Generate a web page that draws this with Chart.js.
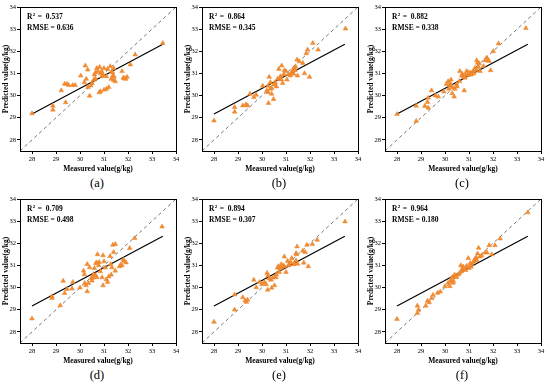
<!DOCTYPE html>
<html>
<head>
<meta charset="utf-8">
<script src="https://cdn.jsdelivr.net/npm/chart.js@4.4.1/dist/chart.umd.min.js"></script>
<style>
  body { margin: 0; background: #fff; }
  #wrap { position: relative; width: 550px; height: 387px; overflow: hidden; }
  canvas { position: absolute; }
  .tag { position: absolute; font: 12.5px "Liberation Serif", "Times New Roman", serif; color: #000; transform: translate(-50%, -50%); }
</style>
</head>
<body>
<div id="wrap"></div>
<script>
// ticks shared by both axes
const tickValues = [28, 29, 30, 31, 32, 33, 34];
// fitted line and 1:1 line
const fitX = [28.0, 33.45];
const fitY = [29.17, 32.32];
const oneToOne = [27.5, 34];

const panelLabels = ['(a)', '(b)', '(c)', '(d)', '(e)', '(f)'];
const r2Values = ['0.537', '0.864', '0.882', '0.709', '0.894', '0.964'];
const rmseValues = ['0.636', '0.345', '0.338', '0.498', '0.307', '0.180'];

const measuredA = [28.0, 28.87, 28.87, 29.22, 29.36, 29.46, 29.53, 29.4, 29.7, 29.8, 30.03, 30.22, 30.32, 30.18, 30.26, 30.33, 30.4, 30.5, 30.57, 30.64, 30.7, 30.74, 30.82, 30.85, 30.8, 30.85, 30.92, 30.96, 31.0, 31.1, 31.1, 31.0, 31.2, 31.26, 31.33, 31.37, 31.47, 31.4, 31.75, 31.8, 31.9, 31.96, 32.1, 32.3, 33.45,
  30.6, 30.9, 31.3, 31.4, 31.35, 30.45, 30.65, 31.15, 31.85, 31.42];
const predictedA = [29.2, 29.54, 29.36, 30.23, 30.53, 30.53, 30.47, 29.69, 30.47, 30.47, 30.9, 31.35, 31.17, 30.6, 30.75, 30.38, 29.99, 30.56, 30.71, 30.77, 31.24, 31.1, 31.29, 31.0, 30.14, 30.19, 30.87, 30.95, 31.24, 30.87, 30.3, 30.26, 30.38, 31.32, 31.1, 30.9, 30.64, 31.24, 31.1, 30.8, 30.75, 30.84, 31.4, 31.85, 32.37,
  30.95, 31.1, 30.75, 30.7, 31.05, 30.45, 31.05, 31.2, 30.78, 30.85];

const measuredB = [28.0, 28.86, 28.86, 29.2, 29.33, 29.4, 29.5, 29.66, 29.76, 30.03, 30.2, 30.26, 30.3, 30.35, 30.27, 30.4, 30.4, 30.48, 30.55, 30.6, 30.7, 30.82, 30.77, 30.8, 30.86, 30.93, 31.0, 31.04, 31.18, 31.28, 31.35, 31.4, 31.32, 31.48, 31.46, 31.55, 31.7, 31.77, 31.84, 31.9, 31.98, 32.12, 32.34, 33.48,
  30.25, 30.5, 30.75, 31.1, 31.3, 31.38, 30.65, 30.35, 31.2, 30.9];
const predictedB = [28.87, 29.48, 29.27, 29.55, 29.6, 29.55, 30.08, 29.93, 30.03, 30.44, 30.23, 30.44, 30.84, 30.6, 29.66, 30.34, 30.08, 29.84, 30.6, 30.41, 31.2, 31.35, 30.87, 30.72, 30.56, 31.14, 31.1, 30.72, 30.9, 31.1, 31.24, 31.32, 30.98, 30.9, 31.62, 31.55, 31.47, 31.0, 31.9, 32.07, 30.84, 32.37, 32.07, 33.02,
  30.15, 30.5, 30.8, 30.95, 31.2, 31.15, 30.75, 30.3, 31.0, 30.95];

const measuredC = [28.0, 28.8, 28.8, 29.16, 29.27, 29.3, 29.3, 29.44, 29.6, 29.72, 29.95, 30.06, 30.13, 30.16, 30.2, 30.25, 30.3, 30.3, 30.38, 30.41, 30.48, 30.62, 30.72, 30.76, 30.83, 30.8, 30.9, 30.97, 31.08, 31.18, 31.25, 31.32, 31.36, 31.4, 31.46, 31.6, 31.67, 31.74, 31.83, 31.9, 32.01, 32.23, 33.37,
  30.22, 30.5, 30.7, 30.85, 31.0, 31.2, 31.3, 31.42, 30.6, 31.1, 31.8];
const predictedC = [29.16, 29.54, 28.85, 29.53, 29.71, 29.9, 29.45, 30.23, 30.0, 29.95, 30.18, 30.52, 30.64, 30.3, 30.46, 30.72, 30.38, 30.1, 29.95, 30.3, 30.5, 31.1, 30.98, 30.87, 30.8, 30.23, 31.1, 30.92, 31.02, 31.1, 31.25, 31.59, 31.48, 31.28, 31.1, 31.33, 31.59, 31.71, 31.56, 31.14, 32.0, 32.35, 33.04,
  30.55, 30.4, 30.9, 30.95, 31.05, 31.0, 31.15, 31.45, 30.65, 30.95, 31.6];

const measuredD = [28.0, 28.83, 28.83, 29.18, 29.3, 29.36, 29.46, 29.67, 29.7, 30.0, 30.15, 30.18, 30.2, 30.25, 30.3, 30.3, 30.4, 30.47, 30.5, 30.56, 30.6, 30.66, 30.7, 30.73, 30.78, 30.85, 30.92, 30.96, 30.96, 31.0, 31.1, 31.15, 31.25, 31.28, 31.3, 31.33, 31.37, 31.4, 31.47, 31.47, 31.65, 31.7, 31.8, 31.85, 31.92, 32.07, 32.28, 33.42,
  30.35, 30.65, 30.8, 31.05, 31.2, 30.55, 31.75, 30.7];
const predictedD = [28.6, 29.6, 29.53, 29.2, 30.3, 29.75, 29.93, 29.95, 30.25, 30.0, 30.76, 30.6, 30.2, 30.1, 31.06, 29.83, 30.91, 30.43, 30.31, 30.6, 30.88, 31.1, 30.46, 31.5, 31.0, 30.73, 30.46, 31.45, 30.1, 31.18, 30.37, 30.25, 31.42, 31.06, 30.58, 30.91, 31.93, 31.6, 31.96, 30.76, 30.96, 31.03, 31.25, 31.2, 31.13, 31.78, 32.23, 32.75,
  30.2, 30.55, 31.15, 30.9, 30.5, 30.45, 31.0, 31.12];

const measuredE = [28.0, 28.86, 28.86, 29.2, 29.3, 29.35, 29.66, 29.76, 29.9, 30.0, 30.1, 30.17, 30.21, 30.26, 30.24, 30.38, 30.4, 30.52, 30.58, 30.68, 30.72, 30.8, 30.82, 30.93, 30.93, 31.0, 31.07, 31.14, 31.24, 31.32, 31.42, 31.42, 31.46, 31.48, 31.7, 31.74, 31.8, 31.87, 31.93, 32.1, 32.3, 33.46,
  29.4, 30.3, 30.6, 30.75, 30.88, 31.2, 31.35, 30.45, 31.1, 30.65, 31.44];
const predictedE = [28.45, 29.0, 29.68, 29.56, 29.41, 29.35, 30.35, 30.01, 30.25, 30.15, 30.25, 30.15, 30.66, 30.55, 29.9, 30.35, 29.99, 30.1, 30.46, 30.96, 30.7, 31.05, 30.9, 31.4, 30.96, 30.7, 31.2, 31.05, 31.33, 31.05, 31.55, 31.22, 31.85, 31.07, 31.66, 31.12, 31.6, 31.93, 30.96, 31.96, 32.15, 32.98,
  29.45, 30.4, 30.6, 30.85, 31.0, 31.15, 31.1, 30.45, 31.0, 30.9, 31.5];

const measuredF = [28.0, 28.85, 28.85, 28.9, 29.2, 29.27, 29.34, 29.44, 29.5, 29.69, 29.8, 30.0, 30.13, 30.2, 30.27, 30.3, 30.34, 30.4, 30.48, 30.55, 30.66, 30.69, 30.76, 30.8, 30.86, 30.9, 30.97, 31.0, 31.08, 31.18, 31.25, 31.32, 31.36, 31.4, 31.46, 31.53, 31.67, 31.75, 31.84, 31.95, 32.08, 32.3, 33.45,
  30.25, 30.6, 30.72, 31.1, 31.22, 30.45, 31.3, 30.35, 31.05];
const predictedF = [28.58, 29.18, 28.85, 29.0, 29.18, 29.4, 29.33, 29.52, 29.67, 29.76, 29.82, 30.06, 30.21, 30.06, 30.27, 30.47, 30.21, 30.58, 30.47, 30.58, 31.0, 30.73, 30.94, 30.82, 30.79, 30.98, 31.33, 30.88, 30.94, 31.15, 31.3, 31.24, 31.53, 31.79, 31.4, 31.45, 31.58, 31.58, 31.91, 31.5, 31.91, 32.21, 33.39,
  30.35, 30.65, 30.85, 31.05, 31.2, 30.5, 31.35, 30.3, 31.1];

const measured = [measuredA, measuredB, measuredC, measuredD, measuredE, measuredF];
const predicted = [predictedA, predictedB, predictedC, predictedD, predictedE, predictedF];

Chart.defaults.font.family = '"Liberation Serif", "Times New Roman", serif';
Chart.defaults.color = '#000';

const colLeft = [20, 202, 385];
const rowTop = [7, 199];
const boxW = 156, boxH = 144;
const wrap = document.getElementById('wrap');

const boxPlugin = {
  id: 'box',
  afterDraw(chart, args, opts) {
    const { ctx, chartArea: a } = chart;
    ctx.save();
    ctx.strokeStyle = '#000';
    ctx.lineWidth = 1;
    ctx.strokeRect(Math.round(a.left) + 0.5, Math.round(a.top) + 0.5, Math.round(a.right - a.left), Math.round(a.bottom - a.top));
    const fam = '"Liberation Serif", "Times New Roman", serif';
    ctx.fillStyle = '#000';
    ctx.textBaseline = 'middle';
    let x = a.left + 7, y = a.top + 10;
    ctx.font = 'bold 7.5px ' + fam;
    ctx.fillText('R', x, y);
    x += ctx.measureText('R').width;
    ctx.font = 'bold 5px ' + fam;
    ctx.fillText('2', x + 0.3, y - 2.5);
    x += ctx.measureText('2').width + 1;
    ctx.font = 'bold 7.5px ' + fam;
    ctx.fillText(' =  ' + opts.r2, x, y);
    ctx.fillText('RMSE = ' + opts.rmse, a.left + 7, a.top + 21);
    ctx.restore();
  }
};

function axis(title, isY) {
  return {
    type: 'linear',
    min: 27.5,
    max: 34,
    afterBuildTicks: s => { s.ticks = tickValues.map(v => ({ value: v })); },
    afterFit: s => { if (isY) s.width = 20; else s.height = 24; },
    grid: { display: true, drawOnChartArea: false, drawTicks: true, tickLength: 3, color: '#000' },
    border: { display: true, color: '#000' },
    ticks: { padding: 1, font: { size: 6.5 }, color: '#000' },
    title: {
      display: true,
      text: title,
      font: { size: 7.5, weight: 'bold' },
      padding: isY ? { top: 1.5, bottom: 0 } : { top: 0, bottom: 1.5 }
    }
  };
}

for (let i = 0; i < 6; i++) {
  const bx = colLeft[i % 3], by = rowTop[Math.floor(i / 3)];
  const cv = document.createElement('canvas');
  cv.width = 20 + boxW + 9;
  cv.height = 7 + boxH + 24;
  cv.style.left = (bx - 20) + 'px';
  cv.style.top = (by - 7) + 'px';
  wrap.appendChild(cv);

  const tag = document.createElement('div');
  tag.className = 'tag';
  tag.textContent = panelLabels[i];
  tag.style.left = (bx + 77) + 'px';
  tag.style.top = (by + 176) + 'px';
  wrap.appendChild(tag);

  const pts = measured[i].map((x, k) => ({ x: x, y: predicted[i][k] }));

  new Chart(cv, {
    type: 'scatter',
    data: {
      datasets: [
        {
          data: pts, order: 0, pointStyle: 'triangle', pointRadius: 2.7,
          backgroundColor: 'rgb(242,140,50)', borderColor: 'rgb(236,128,36)', borderWidth: 0.5
        },
        {
          data: fitX.map((x, k) => ({ x: x, y: fitY[k] })), order: 1, showLine: true,
          pointRadius: 0, borderColor: '#000', borderWidth: 1.2
        },
        {
          data: oneToOne.map(v => ({ x: v, y: v })), order: 2, showLine: true,
          pointRadius: 0, borderColor: '#777', borderWidth: 1, borderDash: [3.5, 3]
        }
      ]
    },
    options: {
      responsive: false,
      animation: false,
      devicePixelRatio: 1,
      layout: { padding: { left: 0, top: 7, right: 9, bottom: 0 } },
      plugins: { legend: { display: false }, tooltip: { enabled: false }, box: { r2: r2Values[i], rmse: rmseValues[i] } },
      scales: {
        x: axis('Measured value(g/kg)', false),
        y: axis('Predicted value(g/kg)', true)
      }
    },
    plugins: [boxPlugin]
  });
}
</script>
</body>
</html>
